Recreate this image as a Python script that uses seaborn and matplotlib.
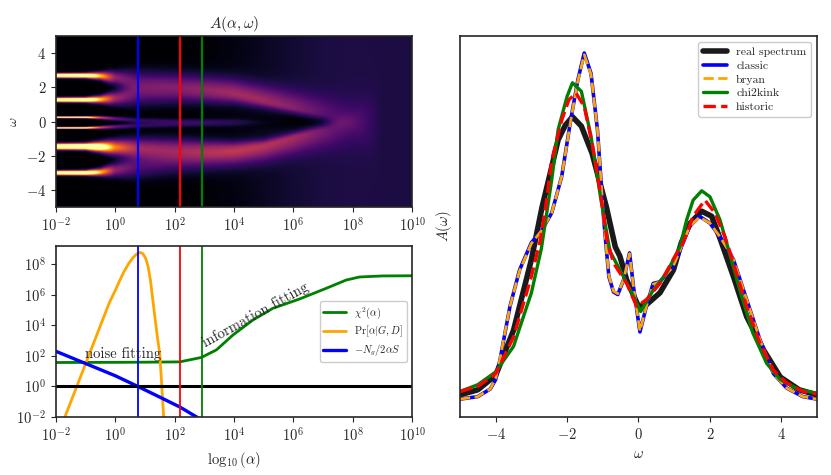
import numpy as np
import pandas as pd
import matplotlib.pyplot as plt
import seaborn as sns

# ---- alpha markers (vertical lines) ----
alpha_marks = [5.8, 150.0, 830.0]
mark_colors = ["blue", "red", "green"]

# ---- heat map A(alpha, omega): peak tracks, log10(alpha) knots ----
knots = [-2, -1, -0.5, 0, 0.8, 2, 3, 4, 5, 6, 7, 8, 9, 10]
inner_frac = [1, 1, 1, 1, 1, 0.9, 0.75, 0.55, 0.4, 0.3, 0.3, 0.6, 1, 1]
background = [0, 0, 0, 0, 0, 0, 0.01, 0.03, 0.06, 0.09, 0.11, 0.12, 0.115, 0.11]
gap_depth = [0, 0, 0, 0, 0, 0, 0, 0.3, 0.8, 0.95, 0.6, 0, 0, 0]

p1_c = [2.72, 2.72, 2.70, 2.60, 2.4, 2.2, 2.0, 1.75, 1.25, 0.85, 0.45, 0.12, 0, 0]
p1_h = [1.6, 1.5, 0.9, 0.40, 0.23, 0.21, 0.21, 0.2, 0.17, 0.12, 0.07, 0.03, 0, 0]
p1_w = [0.085, 0.095, 0.15, 0.28, 0.5, 0.58, 0.6, 0.62, 0.65, 0.7, 0.75, 0.9, 1.5, 3]
p2_c = [1.30, 1.30, 1.32, 1.4, 1.6, 1.7, 1.65, 1.5, 1.2, 0.8, 0.45, 0.12, 0, 0]
p2_h = [1.6, 1.5, 0.9, 0.45, 0.23, 0.19, 0.2, 0.22, 0.2, 0.16, 0.1, 0.04, 0, 0]
p3_c = [0.28, 0.28, 0.26, 0.2, 0.1, 0.05, 0.05, 0.05, 0.02, 0, 0, 0, 0, 0]
p3_h = [1.3, 1.2, 0.6, 0.3, 0.17, 0.15, 0.14, 0.11, 0.03, 0, 0, 0, 0, 0]
p3_w = [0.035, 0.04, 0.065, 0.09, 0.11, 0.12, 0.12, 0.12, 0.12, 0.12, 0.12, 0.12, 0.12, 0.12]
p4_c = [-0.34, -0.34, -0.32, -0.28, -0.2, -0.15, -0.12, -0.1, -0.05, 0, 0, 0, 0, 0]
p4_h = [1.3, 1.2, 0.6, 0.3, 0.17, 0.15, 0.14, 0.11, 0.03, 0, 0, 0, 0, 0]
p5_c = [-1.43, -1.43, -1.45, -1.48, -1.52, -1.55, -1.57, -1.55, -1.35, -0.9, -0.45, -0.12, 0, 0]
p5_h = [1.8, 1.7, 1.3, 0.75, 0.42, 0.34, 0.34, 0.33, 0.28, 0.23, 0.15, 0.06, 0, 0]
p5_w = [0.11, 0.125, 0.2, 0.3, 0.42, 0.5, 0.52, 0.55, 0.6, 0.65, 0.75, 0.9, 1.5, 3]
p6_c = [-2.97, -2.97, -2.93, -2.8, -2.6, -2.3, -2.1, -1.85, -1.45, -0.9, -0.45, -0.12, 0, 0]
p6_h = [1.6, 1.5, 0.9, 0.4, 0.23, 0.21, 0.2, 0.18, 0.15, 0.12, 0.08, 0.03, 0, 0]

# ---- bottom-left curves: log10(alpha), log10(value) ----
chi2_la = [-2, 0, 1, 2.17, 2.9, 3.41, 3.97, 4.64, 5.31, 6.21, 7.11, 7.78, 8.23, 9.01, 10]
chi2_lv = [1.57, 1.58, 1.59, 1.61, 1.90, 2.40, 3.38, 4.36, 5.12, 5.73, 6.43, 6.97, 7.17, 7.24, 7.25]
prob_la = [-1.75, -1.7, -1.3, -0.8, -0.4, -0.2, 0.0, 0.15, 0.3, 0.45, 0.6, 0.72, 0.83, 0.93, 1.02,
           1.1, 1.18, 1.27, 1.4, 1.5, 1.63, 1.7]
prob_lv = [-2.3, -2.0, 0.0, 2.5, 4.5, 5.5, 6.3, 6.95, 7.55, 8.05, 8.45, 8.68, 8.78, 8.7, 8.4,
           7.9, 7.0, 5.56, 3.5, 2.07, -2.0, -4.0]
ent_la = [-2, -1, 0, 0.76, 1.5, 2.18, 2.8]
ent_lv = [2.3, 1.5, 0.7, 0.0, -0.7, -1.35, -2.07]

# ---- right panel spectra ----
real_w = [-5, -4.5, -4, -3.5, -3, -2.7, -2.43, -2.25, -2.05, -1.85, -1.6, -1.3, -0.9, -0.65,
          -0.52, -0.33, 0, 0.22, 0.6, 0.98, 1.2, 1.45, 1.77, 2.05, 2.3, 2.66, 3.03, 3.5, 3.97, 4.5, 5]
real_a = [0.026, 0.032, 0.049, 0.102, 0.185, 0.247, 0.294, 0.326, 0.343, 0.353, 0.342, 0.31, 0.247, 0.20,
          0.189, 0.161, 0.130, 0.132, 0.146, 0.173, 0.205, 0.228, 0.242, 0.236, 0.208, 0.165, 0.118, 0.079, 0.047, 0.032, 0.026]
classic_w = [-5, -4.5, -4.15, -4, -3.88, -3.6, -3.33, -3.0, -2.7, -2.43, -2.15, -1.9, -1.7, -1.52, -1.33, -1.15,
             -0.97, -0.83, -0.7, -0.58, -0.42, -0.25, -0.14, 0.04, 0.22, 0.41, 0.6, 0.97, 1.25, 1.43, 1.71,
             2.0, 2.28, 2.56, 2.66, 3.03, 3.4, 3.78, 4.15, 4.6, 5]
classic_a = [0.021, 0.024, 0.033, 0.044, 0.067, 0.130, 0.173, 0.205, 0.22, 0.24, 0.283, 0.349, 0.396, 0.428, 0.404, 0.338,
             0.23, 0.165, 0.147, 0.144, 0.161, 0.193, 0.153, 0.100, 0.130, 0.157, 0.159, 0.177, 0.205, 0.224, 0.236,
             0.228, 0.212, 0.193, 0.185, 0.138, 0.091, 0.051, 0.034, 0.024, 0.021]
bryan_w = classic_w
bryan_a = [0.021, 0.024, 0.033, 0.045, 0.068, 0.130, 0.172, 0.204, 0.22, 0.24, 0.283, 0.348, 0.395, 0.426, 0.403, 0.338,
           0.23, 0.166, 0.148, 0.145, 0.161, 0.192, 0.153, 0.101, 0.130, 0.156, 0.159, 0.177, 0.205, 0.224, 0.235,
           0.228, 0.212, 0.193, 0.185, 0.138, 0.091, 0.051, 0.034, 0.024, 0.021]
kink_w = [-5, -4.5, -4, -3.5, -3, -2.72, -2.43, -2.25, -2.0, -1.85, -1.6, -1.33, -1.05, -0.8, -0.42, -0.14,
          0.06, 0.41, 0.78, 1.16, 1.35, 1.53, 1.77, 2.0, 2.28, 2.5, 2.84, 3.2, 3.59, 3.97, 4.5, 5]
kink_a = [0.030, 0.038, 0.053, 0.083, 0.146, 0.198, 0.279, 0.338, 0.377, 0.393, 0.383, 0.330, 0.255, 0.195, 0.165, 0.142,
          0.124, 0.149, 0.169, 0.200, 0.232, 0.255, 0.266, 0.259, 0.232, 0.200, 0.149, 0.099, 0.063, 0.044, 0.032, 0.028]
hist_w = [-5, -4.5, -4, -3.5, -3, -2.75, -2.6, -2.43, -2.15, -1.95, -1.75, -1.52, -1.28, -1.05, -0.88, -0.7, -0.33,
          -0.05, 0.22, 0.6, 0.97, 1.25, 1.53, 1.86, 2.14, 2.42, 2.66, 3.03, 3.4, 3.78, 4.15, 4.6, 5]
hist_a = [0.030, 0.036, 0.051, 0.094, 0.165, 0.208, 0.247, 0.302, 0.349, 0.373, 0.381, 0.365, 0.318, 0.259, 0.208, 0.181, 0.157,
          0.130, 0.138, 0.157, 0.185, 0.205, 0.236, 0.255, 0.240, 0.212, 0.181, 0.130, 0.087, 0.055, 0.040, 0.030, 0.027]

sns.set_style("ticks")
plt.rcParams.update({
    "font.family": "serif",
    "font.serif": ["cmr10", "DejaVu Serif"],
    "mathtext.fontset": "cm",
    "axes.formatter.use_mathtext": True,
    "axes.unicode_minus": True,
    "font.size": 10,
    "xtick.labelsize": 10.5,
    "ytick.labelsize": 10.5,
    "axes.edgecolor": "0.15",
    "axes.linewidth": 1.2,
    "xtick.major.size": 3.5,
    "ytick.major.size": 3.5,
})

fig = plt.figure(figsize=(8.31, 4.75), dpi=100)
ax_map = fig.add_axes([0.0674, 0.5642, 0.4284, 0.36])
ax_cur = fig.add_axes([0.0674, 0.1221, 0.4284, 0.36])
ax_spec = fig.add_axes([0.5535, 0.1221, 0.4297, 0.8021])

# heat map
la = np.linspace(-2, 10, 481)
om = np.linspace(-5, 5, 301)
bg = np.interp(la, knots, background)
gp = np.interp(la, knots, gap_depth)
field = bg[None, :] * (1 - gp[None, :] * np.exp(-om[:, None] ** 2 / (2 * 0.3 ** 2)))
inner = np.interp(la, knots, inner_frac)
peaks = [(p1_c, p1_h, p1_w), (p2_c, p2_h, p1_w), (p3_c, p3_h, p3_w),
         (p4_c, p4_h, p3_w), (p5_c, p5_h, p5_w), (p6_c, p6_h, p1_w)]
for c, h, w in peaks:
    cc = np.interp(la, knots, c)
    hh = np.interp(la, knots, h)
    ww = np.interp(la, knots, w)
    d = om[:, None] - cc[None, :]
    sig = np.where(d * cc[None, :] < 0, ww * inner, ww)
    field = field + hh[None, :] * np.exp(-d ** 2 / (2 * sig ** 2))

ax_map.pcolormesh(10.0 ** la, om, field, cmap="inferno", vmin=0, vmax=1,
                  shading="gouraud", rasterized=True)
ax_map.set_xscale("log")
ax_map.set_xlim(1e-2, 1e10)
ax_map.set_ylim(-5, 5)
ax_map.set_yticks([-4, -2, 0, 2, 4])
ax_map.set_xticks([10.0 ** k for k in range(-2, 11, 2)])
ax_map.minorticks_off()
ax_map.set_title(r"$A(\alpha,\omega)$", fontsize=11)
ax_map.set_ylabel(r"$\omega$", fontsize=10)
for a, col in zip(alpha_marks, mark_colors):
    ax_map.axvline(a, color=col, lw=1.6)

# curves panel
ax_cur.set_xscale("log")
ax_cur.set_yscale("log")
curves = pd.DataFrame({
    "alpha": 10.0 ** np.array(chi2_la + prob_la + ent_la),
    "value": 10.0 ** np.array(chi2_lv + prob_lv + ent_lv),
    "curve": ["chi2"] * len(chi2_la) + ["prob"] * len(prob_la) + ["ent"] * len(ent_la),
})
labels = {"chi2": r"$\chi^2(\alpha)$", "prob": r"$\Pr[\alpha|G,D]$", "ent": r"$-N_g/2\alpha S$"}
cols = {"chi2": "green", "prob": "orange", "ent": "blue"}
widths = {"chi2": 2.0, "prob": 2.0, "ent": 2.4}
for key in ["chi2", "prob", "ent"]:
    sub = curves[curves["curve"] == key]
    sns.lineplot(data=sub, x="alpha", y="value", ax=ax_cur, color=cols[key],
                 lw=widths[key], label=labels[key], estimator=None, sort=False)
ax_cur.axhline(1.0, color="black", lw=2.2)
for a, col in zip(alpha_marks, mark_colors):
    ax_cur.axvline(a, color=col, lw=1.3)
ax_cur.set_xlim(1e-2, 1e10)
ax_cur.set_ylim(1e-2, 10 ** 9.2)
ax_cur.set_xticks([10.0 ** k for k in range(-2, 11, 2)])
ax_cur.set_yticks([10.0 ** k for k in range(-2, 9, 2)])
ax_cur.minorticks_off()
ax_cur.set_xlabel(r"$\log_{10}(\alpha)$", fontsize=10.5)
ax_cur.set_ylabel("")
ax_cur.text(0.095, 50, "noise fitting", fontsize=10.5, ha="left", va="bottom")
ax_cur.text(1.2e3, 2.6e2, "information fitting", fontsize=10.5, ha="left", va="bottom",
            rotation=29, rotation_mode="anchor")
ax_cur.legend(loc="center right", fontsize=7.5, handlelength=2.2, borderpad=0.35,
              labelspacing=0.3, fancybox=True, framealpha=1)

# spectra panel
spec = [("real spectrum", real_w, real_a, "#1a1a1a", "-", 4.0),
        ("classic", classic_w, classic_a, "blue", "-", 2.6),
        ("bryan", bryan_w, bryan_a, "orange", "--", 2.0),
        ("chi2kink", kink_w, kink_a, "green", "-", 2.4),
        ("historic", hist_w, hist_a, "red", "--", 2.4)]
for name, w, a, col, ls, lw in spec:
    sns.lineplot(x=w, y=a, ax=ax_spec, color=col, linestyle=ls, lw=lw, label=name,
                 estimator=None, sort=False)
ax_spec.set_xlim(-5, 5)
ax_spec.set_ylim(0, 0.448)
ax_spec.set_xticks([-4, -2, 0, 2, 4])
ax_spec.set_yticks([])
ax_spec.set_xlabel(r"$\omega$", fontsize=10.5)
ax_spec.set_ylabel(r"$A(\omega)$", fontsize=10.5)
ax_spec.legend(loc="upper right", fontsize=8.5, handlelength=2.0, borderpad=0.4,
               labelspacing=0.3, fancybox=True, framealpha=1)

fig.savefig("out.png", dpi=100)
